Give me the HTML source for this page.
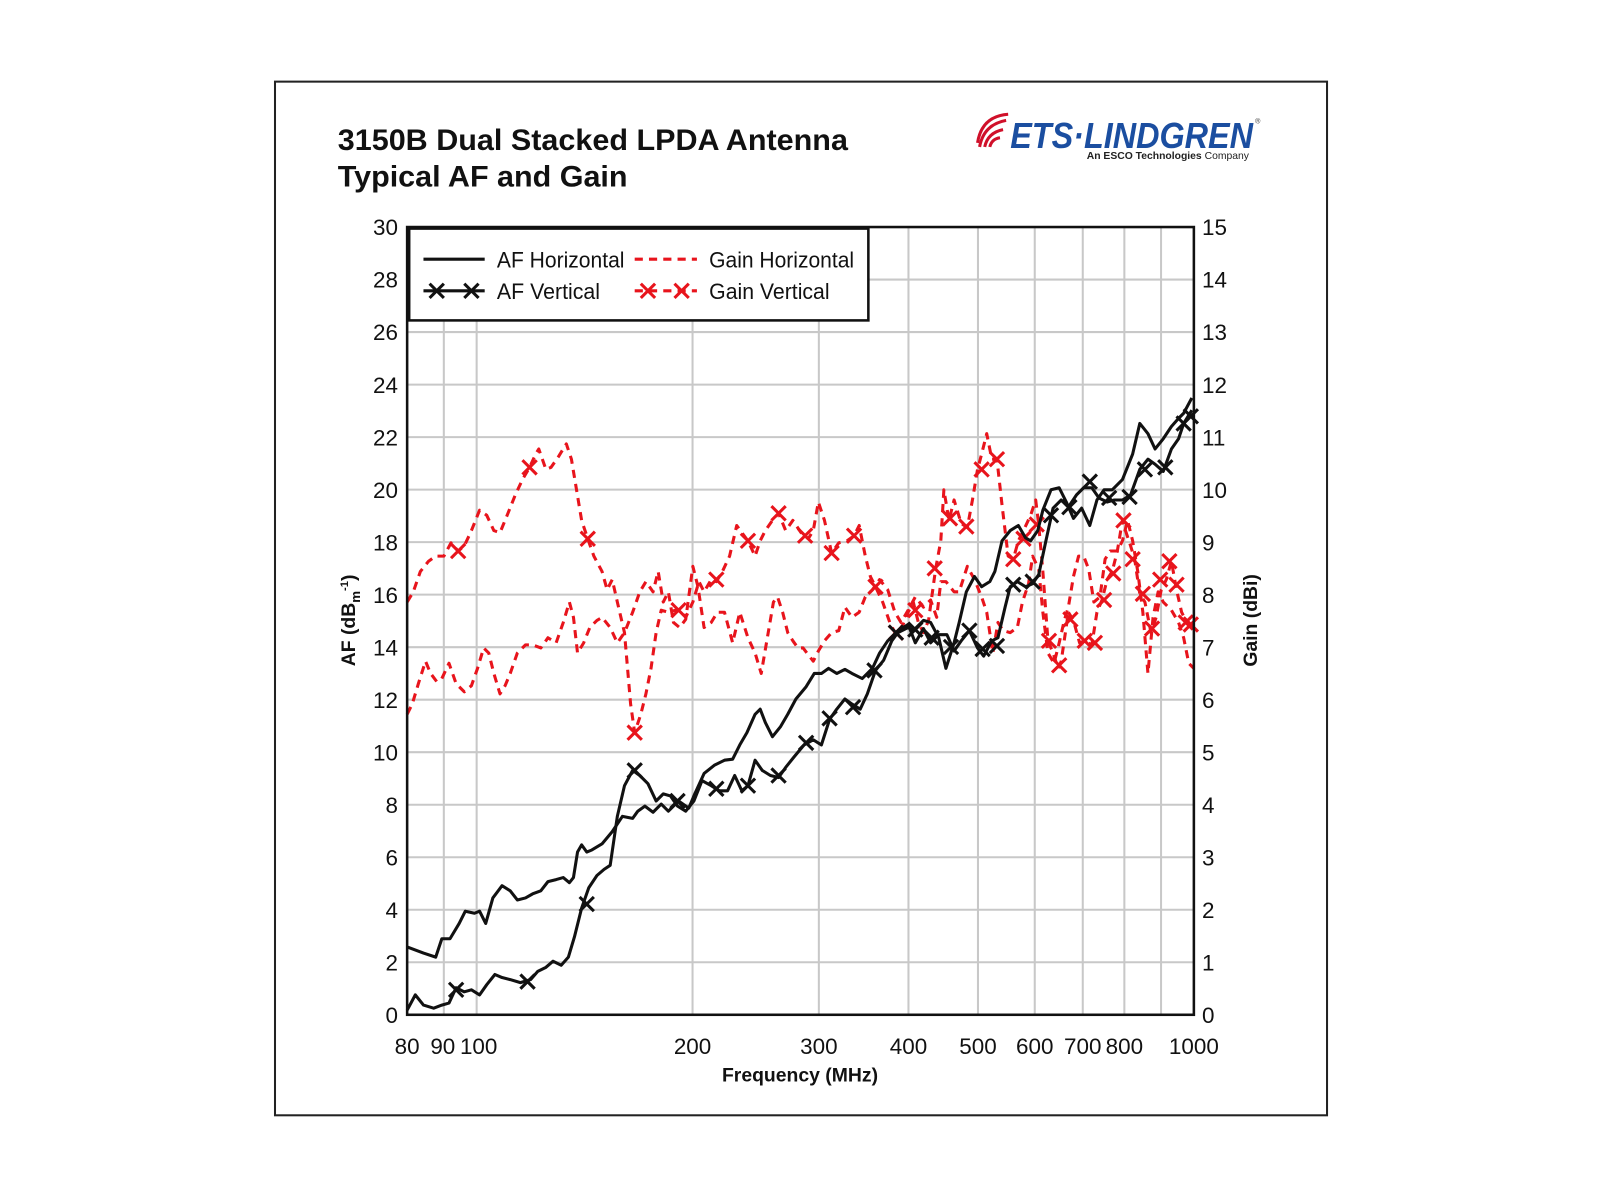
<!DOCTYPE html>
<html><head><meta charset="utf-8"><style>
html,body{margin:0;padding:0;background:#fff;width:1600px;height:1200px;overflow:hidden}
svg{display:block}
.t{font-family:"Liberation Sans Narrow","Liberation Sans",sans-serif;font-size:22px;fill:#111}
.b{font-family:"Liberation Sans",sans-serif;font-weight:bold;fill:#111}
</style></head><body>
<svg width="1600" height="1200" viewBox="0 0 1600 1200" xmlns="http://www.w3.org/2000/svg">
<rect width="1600" height="1200" fill="#fff"/>
<g transform="scale(1.0204)" id="root">
<rect x="269.5" y="80" width="1031" height="1013" fill="#fff" stroke="#222" stroke-width="2"/>
<text class="b" x="331" y="147" font-size="29" textLength="500" lengthAdjust="spacingAndGlyphs">3150B Dual Stacked LPDA Antenna</text>
<text class="b" x="331" y="183" font-size="29" textLength="284" lengthAdjust="spacingAndGlyphs">Typical AF and Gain</text>
<!-- logo -->
<g>
<g fill="none" stroke="#d0102a" stroke-width="3">
<path d="M960 144 q4 -22 26 -26"/><path d="M965 144 q3 -14 18 -17"/><path d="M970 144 q2 -8 10 -9"/><path d="M958 140 q4 -26 30 -28"/>
</g>
<text x="990" y="145" font-family="Liberation Sans,sans-serif" font-weight="bold" font-style="italic" font-size="35" fill="#1b4ea0" textLength="238" lengthAdjust="spacingAndGlyphs">ETS·LINDGREN</text>
<text x="1230" y="121" font-family="Liberation Sans,sans-serif" font-size="7" fill="#333">®</text>
<text x="1065" y="156" font-family="Liberation Sans,sans-serif" font-size="10" fill="#222" textLength="159" lengthAdjust="spacingAndGlyphs"><tspan font-weight="bold">An ESCO Technologies</tspan> Company</text>
</g>
<g id="grid" stroke="#c8c8c8" stroke-width="2"></g>
<g id="series"></g>
<rect x="399" y="222.5" width="771" height="772" fill="none" stroke="#111" stroke-width="2.5"/>
<g id="ticks"></g>
<!-- legend -->
<rect x="401" y="224" width="450" height="90" fill="#fff" stroke="#111" stroke-width="2.5"/>
<line x1="415" y1="254" x2="475" y2="254" stroke="#111" stroke-width="3"/>
<text class="t" x="487" y="262" font-size="22" textLength="125" lengthAdjust="spacingAndGlyphs">AF Horizontal</text>
<line x1="622" y1="254" x2="683" y2="254" stroke="#e8141c" stroke-width="3" stroke-dasharray="8 6"/>
<text class="t" x="695" y="262" font-size="22" textLength="142" lengthAdjust="spacingAndGlyphs">Gain Horizontal</text>
<line x1="415" y1="285" x2="475" y2="285" stroke="#111" stroke-width="3"/>
<text class="t" x="487" y="293" font-size="22" textLength="101" lengthAdjust="spacingAndGlyphs">AF Vertical</text>
<line x1="622" y1="285" x2="683" y2="285" stroke="#e8141c" stroke-width="3" stroke-dasharray="8 6"/>
<text class="t" x="695" y="293" font-size="22" textLength="118" lengthAdjust="spacingAndGlyphs">Gain Vertical</text>
<g id="legm"></g>
<text class="b" font-size="19" transform="translate(348,608) rotate(-90)" text-anchor="middle">AF (dB<tspan font-size="13" dy="5">m</tspan><tspan font-size="11" dy="-12">-1</tspan><tspan dy="7">)</tspan></text>
<text class="b" font-size="19" transform="translate(1232,608) rotate(-90)" text-anchor="middle">Gain (dBi)</text>
<text class="b" font-size="19" x="784" y="1060" text-anchor="middle">Frequency (MHz)</text>
</g>
</svg>
<script>
var NS="http://www.w3.org/2000/svg";
function el(p,n,a){var e=document.createElementNS(NS,n);for(var k in a)e.setAttribute(k,a[k]);p.appendChild(e);return e;}
var L=399,R=1170,T=222.5,B=994.5;
var grid=document.getElementById('grid'),ticks=document.getElementById('ticks'),ser=document.getElementById('series');
function fx(f){return L+(R-L)*Math.log(f/80)/Math.log(12.5);}
var fs=[90,100,200,300,400,500,600,700,800,900];
fs.forEach(function(f){var x=fx(f);el(grid,'line',{x1:x,y1:T,x2:x,y2:B});});
for(var i=1;i<15;i++){var y=B-(B-T)*i/15;el(grid,'line',{x1:L,y1:y,x2:R,y2:y});}
for(var i=0;i<=15;i++){var y=B-(B-T)*i/15;
 var t=el(ticks,'text',{x:390,y:y+8,'class':'t','text-anchor':'end'});t.textContent=(i*2);
 var t2=el(ticks,'text',{x:1178,y:y+8,'class':'t'});t2.textContent=i;}
[[80,'80'],[90,'90'],[100,'100'],[200,'200'],[300,'300'],[400,'400'],[500,'500'],[600,'600'],[700,'700'],[800,'800'],[1000,'1000']].forEach(function(a){
 var x=fx(a[0]);var anchor='middle';if(a[0]==90){x=x-1;}if(a[0]==100)x=x+2;
 var t=el(ticks,'text',{x:x,y:1033,'class':'t','text-anchor':anchor});t.textContent=a[1];});
function pl(pts,col,dash){var a={points:pts,fill:'none',stroke:col,'stroke-width':3,'stroke-linejoin':'round'};if(dash)a['stroke-dasharray']='8 6';el(ser,'polyline',a);}
function mk(g,pts,col){var p=pts.trim().split(/\s+/);p.forEach(function(s){var c=s.split(',');var x=+c[0],y=+c[1];
 el(g,'path',{d:'M'+(x-7)+' '+(y-7)+'L'+(x+7)+' '+(y+7)+'M'+(x+7)+' '+(y-7)+'L'+(x-7)+' '+(y+7),stroke:col,'stroke-width':3,fill:'none'});});}
var gh="399,700 404,690 410,670 417,648 422,660 428,668 433,665 440,650 447,670 455,678 462,672 468,655 474,635 479,640 484,660 490,680 495,672 500,660 507,640 515,632 522,632 530,635 537,625 545,630 552,610 558,590 562,605 566,640 572,630 578,615 585,608 590,605 598,615 605,630 612,620 620,600 627,580 633,570 640,580 645,560 650,590 655,580 660,610 666,615 672,607 679,555 684,575 690,615 697,610 703,600 710,600 718,630 725,600 733,625 740,640 746,660 752,625 758,590 762,585 767,600 772,620 777,628 782,635 787,635 797,648 802,638 808,628 815,620 822,618 828,595 835,605 842,600 848,585 855,578 862,568 870,578 877,600 883,610 890,598 897,585 905,595 912,588 918,605 922,570 927,570 935,580 940,580 948,555 955,568 962,585 967,600 973,640 978,610 983,618 990,620 997,615 1002,590 1008,572 1012,545 1018,558 1022,600 1027,640 1033,650 1038,630 1043,608 1047,595 1052,565 1057,545 1062,545 1067,558 1072,590 1078,585 1083,548 1088,540 1095,540 1100,530 1105,510 1110,530 1115,560 1120,600 1125,660 1130,605 1135,580 1140,590 1148,598 1155,610 1160,625 1165,650 1170,655";
var gv="399,590 405,580 412,560 420,550 427,545 435,545 442,532 449,540 455,535 462,520 470,500 477,505 484,520 490,522 497,505 505,485 512,470 519,458 525,445 528,440 535,460 540,458 547,448 555,435 560,450 565,480 570,510 576,528 582,545 590,560 595,578 600,568 605,590 612,620 618,690 622,718 628,700 633,680 638,655 643,620 648,598 655,600 662,598 668,598 672,605 679,590 685,570 690,580 697,568 702,570 708,560 715,545 722,515 727,522 733,530 740,545 745,530 750,520 757,510 763,503 770,520 777,510 785,522 792,528 797,520 802,492 808,510 815,542 822,532 830,530 837,525 842,515 848,545 853,565 858,575 865,590 872,610 878,622 885,612 890,600 895,590 900,610 905,620 910,608 917,557 922,530 925,480 930,510 935,490 942,513 948,517 953,490 958,460 962,445 967,425 972,450 977,450 982,495 988,545 993,548 998,530 1003,520 1010,505 1015,490 1018,515 1022,560 1027,628 1032,640 1037,655 1040,648 1047,600 1052,608 1058,630 1063,628 1070,632 1075,600 1080,588 1085,568 1090,560 1095,540 1100,510 1103,520 1108,535 1112,548 1117,582 1122,590 1128,620 1133,605 1138,578 1143,568 1148,550 1153,578 1158,600 1163,610 1170,615";
var gvm="449,540 519,458 576,528 622,718 665,598 702,568 733,530 763,503 789,525 815,542 837,525 858,575 878,620 897,598 916,557 931,508 947,516 962,460 977,450 993,548 1003,528 1016,514 1028,628 1038,652 1049,607 1063,628 1073,630 1082,588 1091,562 1101,510 1110,548 1120,582 1129,616 1137,568 1146,550 1153,573 1162,610 1167,612";
var ah="399,928 415,934 427,938 433,920 441,920 450,905 456,893 465,895 470,893 476,905 483,880 492,868 500,873 507,882 515,880 522,876 530,873 537,864 545,862 552,860 558,865 562,860 566,835 570,828 575,835 580,833 590,827 600,815 610,800 620,802 625,795 632,790 640,796 648,788 655,795 665,785 675,792 680,780 690,758 700,750 710,745 718,744 725,730 732,718 740,700 745,695 750,708 757,722 765,712 772,700 780,685 790,673 798,660 805,660 812,655 820,660 828,656 835,660 845,665 855,655 862,640 870,628 880,620 890,615 895,618 905,608 912,610 920,625 927,655 935,630 940,610 947,580 955,565 962,575 970,570 975,560 982,530 990,520 998,515 1005,527 1010,530 1017,520 1022,500 1030,480 1038,478 1045,492 1052,508 1060,498 1068,515 1075,490 1082,480 1090,480 1100,470 1110,445 1117,415 1125,425 1132,440 1140,430 1148,418 1155,410 1160,405 1168,390";
var av="399,990 407,975 415,985 425,988 433,985 440,983 447,968 455,972 462,970 470,975 477,965 485,955 492,958 500,960 510,963 520,960 527,952 535,948 542,942 550,946 557,938 563,918 570,890 577,870 585,858 592,852 598,848 605,800 612,770 620,755 627,760 635,768 643,785 650,778 657,780 664,790 672,795 680,785 688,765 697,770 705,775 713,775 720,760 727,775 733,770 740,745 747,755 755,760 763,762 770,752 778,742 788,730 797,725 805,730 813,705 820,695 828,685 835,690 843,695 850,680 858,657 866,647 874,628 882,617 890,612 897,630 905,616 912,630 920,622 928,622 935,638 942,628 950,618 958,635 964,643 972,628 978,625 985,595 990,575 997,570 1005,575 1012,572 1018,563 1025,530 1032,498 1040,490 1047,497 1055,485 1062,478 1070,478 1077,488 1085,492 1092,490 1100,490 1108,485 1117,460 1125,450 1132,455 1140,462 1148,440 1155,430 1160,415 1168,402";
var avm="447,970 517,962 575,886 622,755 664,785 702,773 733,770 763,760 790,728 813,704 836,693 857,657 878,620 897,617 913,625 932,634 950,618 963,636 977,633 993,573 1012,570 1030,505 1048,497 1068,472 1087,488 1107,487 1122,460 1142,458 1160,415 1167,408";
pl(gh,'#e8141c',true);pl(gv,'#e8141c',true);mk(ser,gvm,'#e8141c');
pl(ah,'#111',false);pl(av,'#111',false);mk(ser,avm,'#111');
var lg=document.getElementById('legm');
mk(lg,"428,285 462,285",'#111');mk(lg,"635,285 668,285",'#e8141c');
</script>
</body></html>
